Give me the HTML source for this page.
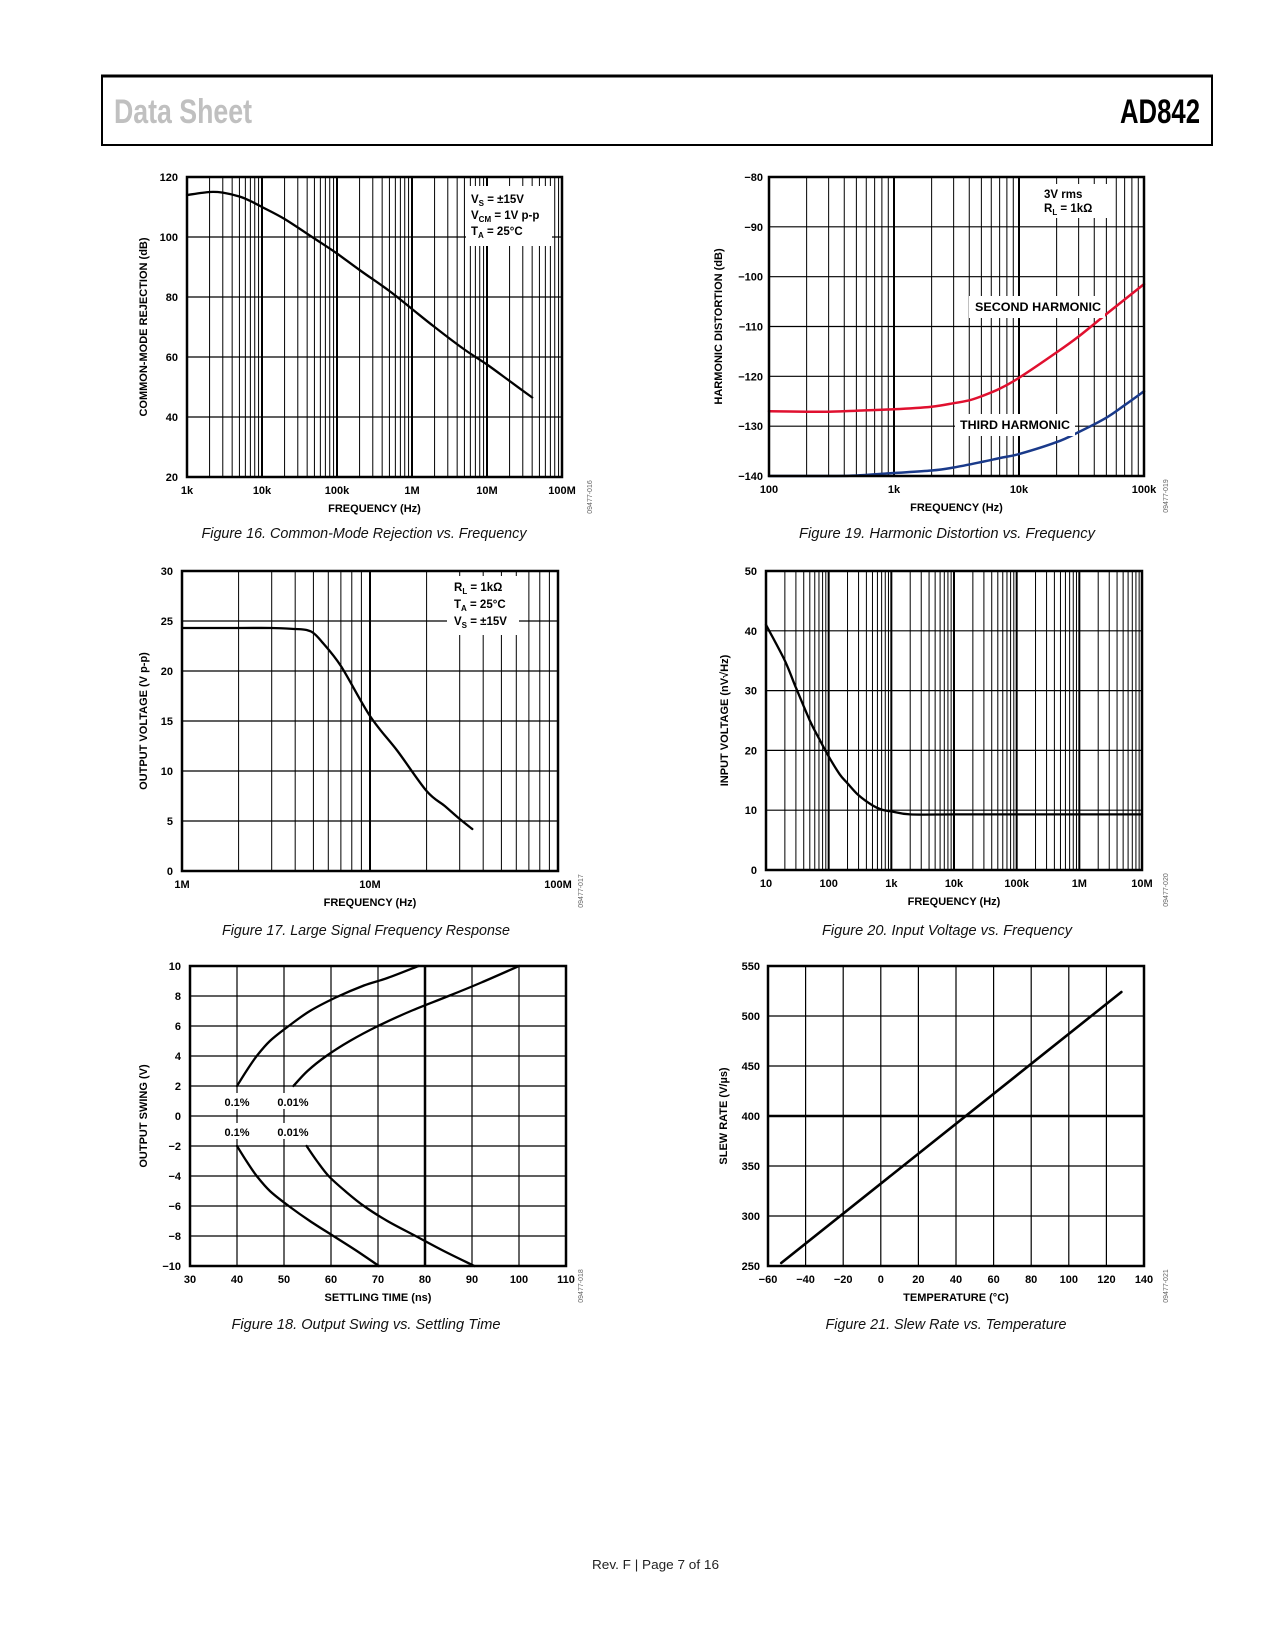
<!DOCTYPE html>
<html><head><meta charset="utf-8"><title>AD842 Data Sheet page 7</title>
<style>
html,body{margin:0;padding:0;background:#fff;}
body{width:1275px;height:1650px;position:relative;overflow:hidden;font-family:"Liberation Sans",sans-serif;}
svg{position:absolute;left:0;top:0;}
text{font-family:"Liberation Sans",sans-serif;}
</style></head>
<body>
<svg id="page" width="1275" height="1650" viewBox="0 0 1275 1650" xmlns="http://www.w3.org/2000/svg">
  <g>
    <rect x="102" y="76" width="1110" height="69" fill="none" stroke="#000" stroke-width="2"/>
    <line x1="101" y1="76" x2="1213" y2="76" stroke="#000" stroke-width="3"/>
    <text x="114" y="123" font-size="34" font-weight="bold" fill="#c0c0c0" textLength="138" lengthAdjust="spacingAndGlyphs">Data Sheet</text>
    <text x="1120" y="123" font-size="34" font-weight="bold" fill="#000" textLength="80" lengthAdjust="spacingAndGlyphs">AD842</text>
  </g>
  <text x="592" y="1569" font-size="13" fill="#222" textLength="127" lengthAdjust="spacingAndGlyphs">Rev. F | Page 7 of 16</text>
</svg>
<script>
// ---------- Figure 16: CMR vs frequency ----------
const cmrFreq = [1e3,2e3,3e3,5e3,7e3,1e4,2e4,5e4,1e5,2e5,5e5,1e6,2e6,5e6,1e7,2e7,4e7];
const cmrDb   = [114,115,114.8,113.5,112,110,106,99.5,94.5,89,82,76,70,62.5,57.5,52,46.5];
const cmrYTicks = [20,40,60,80,100,120];
const cmrXTickLabels = ["1k","10k","100k","1M","10M","100M"];

// ---------- Figure 19: harmonic distortion ----------
const hdFreq2 = [100,200,300,500,1e3,2e3,3e3,4e3,5e3,7e3,1e4,2e4,3e4,5e4,1e5];
const hdSecond = [-127,-127.1,-127.1,-126.9,-126.6,-126.1,-125.4,-124.8,-124,-122.5,-120.3,-115.2,-112,-107.5,-101.5];
const hdFreq3 = [100,300,500,1e3,2e3,3e3,5e3,7e3,1e4,2e4,3e4,5e4,7e4,1e5];
const hdThird = [-140,-140,-139.9,-139.4,-138.9,-138.3,-137.2,-136.4,-135.6,-133.2,-131.2,-128.3,-125.8,-123];
const hdYTicks = [-140,-130,-120,-110,-100,-90,-80];
const hdXTickLabels = ["100","1k","10k","100k"];

// ---------- Figure 17: large signal frequency response ----------
const lsFreq = [1e6,2e6,3e6,4e6,4.6e6,5e6,5.5e6,7e6,1e7,1.4e7,2e7,2.5e7,3e7,3.5e7];
const lsVolt = [24.3,24.3,24.3,24.2,24.1,23.8,23,20.5,15.5,12,8,6.5,5.2,4.2];
const lsYTicks = [0,5,10,15,20,25,30];
const lsXTickLabels = ["1M","10M","100M"];

// ---------- Figure 20: input voltage noise ----------
const nzFreq = [10,20,30,50,70,100,150,200,300,500,700,1e3,2e3,1e4,1e5,1e6,1e7];
const nzVolt = [41,35,30.5,25,22,19,16,14.5,12.5,10.8,10.1,9.8,9.3,9.3,9.3,9.3,9.3];
const nzYTicks = [0,10,20,30,40,50];
const nzXTickLabels = ["10","100","1k","10k","100k","1M","10M"];

// ---------- Figure 18: output swing vs settling time ----------
const stUp01T  = [40,42,44.2,47,51,55.5,61,67,72,78.6];
const stUp01V  = [2,3,4,5,6,7,7.9,8.7,9.2,10];
const stUp001T = [52,55,59,64,70,77,85,92,100];
const stUp001V = [2,3,4,5,6,7,8,8.9,10];
const stLo01T  = [40,42,44.2,47,51,55.5,60.5,65.5,70.2];
const stLo01V  = [-2,-3,-4,-5,-6,-7,-8,-9,-10];
const stLo001T = [54.8,57,59.5,63,67,72,78,84,90.5];
const stLo001V = [-2,-3,-4,-5,-6,-7,-8,-9,-10];
const stXTicks = [30,40,50,60,70,80,90,100,110];
const stYTicks = [-10,-8,-6,-4,-2,0,2,4,6,8,10];

// ---------- Figure 21: slew rate vs temperature ----------
const srTemp = [-53,128];
const srRate = [253,524];
const srXTicks = [-60,-40,-20,0,20,40,60,80,100,120,140];
const srYTicks = [250,300,350,400,450,500,550];

const NS = "http://www.w3.org/2000/svg";
const svg = document.getElementById('page');
function mk(tag, attrs, parent){
  const e = document.createElementNS(NS, tag);
  for (const k in attrs) e.setAttribute(k, attrs[k]);
  (parent||svg).appendChild(e);
  return e;
}
function fmt(v){ return v<0 ? "\u2212"+Math.abs(v) : String(v); }
function smoothPath(pts){
  if (pts.length<3) return pts.map((p,i)=>(i?'L':'M')+p[0].toFixed(1)+' '+p[1].toFixed(1)).join(' ');
  let d='M'+pts[0][0].toFixed(1)+' '+pts[0][1].toFixed(1);
  for (let i=0;i<pts.length-1;i++){
    const p0=pts[i-1]||pts[i], p1=pts[i], p2=pts[i+1], p3=pts[i+2]||p2;
    const c1=[p1[0]+(p2[0]-p0[0])/6, p1[1]+(p2[1]-p0[1])/6];
    const c2=[p2[0]-(p3[0]-p1[0])/6, p2[1]-(p3[1]-p1[1])/6];
    d+=` C${c1[0].toFixed(1)} ${c1[1].toFixed(1)} ${c2[0].toFixed(1)} ${c2[1].toFixed(1)} ${p2[0].toFixed(1)} ${p2[1].toFixed(1)}`;
  }
  return d;
}

function makeChart(c){
  const g = mk('g', {});
  
  
  const L=c.x0, R=c.x1, T=c.y0, B=c.y1;
  const xs = c.log
    ? v => L + (Math.log10(v)-Math.log10(c.xmin))/(Math.log10(c.xmax)-Math.log10(c.xmin))*(R-L)
    : v => L + (v-c.xmin)/(c.xmax-c.xmin)*(R-L);
  const ys = v => B - (v-c.ymin)/(c.ymax-c.ymin)*(B-T);
  const grid = mk('g', {}, g);
  
  
  if (c.log){
    const d0 = Math.round(Math.log10(c.xmin)), d1 = Math.round(Math.log10(c.xmax));
    for (let d=d0; d<d1; d++){
      for (let k=1;k<=9;k++){
        const x = xs(k*Math.pow(10,d));
        mk('line',{x1:x,y1:T,x2:x,y2:B,stroke:'#000','stroke-width':k===1?2:1},grid);
      }
    }
  } else {
    c.xTicks.forEach(v=>{
      const x=xs(v);
      mk('line',{x1:x,y1:T,x2:x,y2:B,stroke:'#000','stroke-width':(c.thickX===v)?2.5:1.2},grid);
    });
  }
  c.yTicks.forEach(v=>{
    const y=ys(v);
    mk('line',{x1:L,y1:y,x2:R,y2:y,stroke:'#000','stroke-width':(c.thickY===v)?2.5:1.2},grid);
  });
  c.yTicks.forEach(v=>{
    const t = mk('text',{x:L-c.ygap,y:ys(v)+4,'font-size':11,'font-weight':'bold','text-anchor':'end',fill:'#000'},g);
    
    
    t.textContent = fmt(v);
  });
  if (c.log){
    c.xLabels.forEach((s,i)=>{
      const x = xs(c.xmin*Math.pow(10,i));
      const t = mk('text',{x:x,y:B+17,'font-size':11,'font-weight':'bold','text-anchor':'middle',fill:'#000'},g);
      
      
      t.textContent = s;
    });
  } else {
    c.xTicks.forEach(v=>{
      const t = mk('text',{x:xs(v),y:B+17,'font-size':11,'font-weight':'bold','text-anchor':'middle',fill:'#000'},g);
      
      
      t.textContent = fmt(v);
    });
  }
  const xt = mk('text',{x:(L+R)/2,y:B+35,'font-size':11,'font-weight':'bold','text-anchor':'middle',fill:'#000'},g);
  
  
  xt.textContent = c.xTitle;
  const yt = mk('text',{x:0,y:0,'font-size':11,'font-weight':'bold','text-anchor':'middle',fill:'#000',transform:`translate(${c.yTitleX+4},${(T+B)/2}) rotate(-90)`},g);
  
  
  yt.textContent = c.yTitle;
  c.series.forEach(s=>{
    const pts = s.xv.map((v,i)=>[xs(v), ys(s.yv[i])]);
    const p = mk('path',{d:smoothPath(pts),fill:'none',stroke:s.color,'stroke-width':s.w||2.3,'stroke-linejoin':'round','stroke-linecap':'round'},g);
    
    
  });
  const fr = mk('rect',{x:L,y:T,width:R-L,height:B-T,fill:'none',stroke:'#000','stroke-width':2.5},g);
  
  
  (c.notes||[]).forEach(n=>{
    const ng = mk('g',{},g);
    
    
    mk('rect',{x:n.bx,y:n.by,width:n.bw,height:n.bh,fill:'#fff'},ng);
    n.lines.forEach((ln,i)=>{
      const a = {x:n.tx,y:n.ty+i*n.lh,'font-size':n.fs||11,'font-weight':'bold',fill:'#000','text-anchor':n.anchor||'start'};
      if (n.tl){ a.textLength=n.tl; a.lengthAdjust='spacingAndGlyphs'; }
      const t = mk('text',a,ng);
      t.innerHTML = ln;
    });
  });
  const fid = mk('text',{x:0,y:0,'font-size':7,fill:'#666','text-anchor':'middle',transform:`translate(${c.idX},${B+20}) rotate(-90)`},g);
  
  
  fid.textContent = c.figId;
  const cap = mk('text',{x:c.capX,y:c.capY,'font-size':15,'font-style':'italic',fill:'#111','text-anchor':'middle',textLength:c.capW,lengthAdjust:'spacingAndGlyphs'},g);
  
  
  cap.textContent = c.caption;
}

const sub = s => `<tspan font-size="8" dy="3">${s}</tspan><tspan dy="-3"> </tspan>`;

makeChart({name:'cmr-chart',x0:187,x1:562,y0:177,y1:477,log:true,xmin:1e3,xmax:1e8,ymin:20,ymax:120,
  yTicks:cmrYTicks,xLabels:cmrXTickLabels,ygap:9,yTitleX:143,
  xTitle:'FREQUENCY (Hz)',yTitle:'COMMON-MODE REJECTION (dB)',
  series:[{name:'cmr-line',xv:cmrFreq,yv:cmrDb,color:'#000'}],
  notes:[{name:'conditions-legend',bx:466,by:186,bw:86,bh:60,tx:471,ty:203,lh:16,fs:11.5,
    lines:['V'+sub('S')+'= ±15V','V'+sub('CM')+'= 1V p-p','T'+sub('A')+'= 25°C']}],
  figId:'09477-016',idX:592,capX:364,capY:538,capW:325,caption:'Figure 16. Common-Mode Rejection vs. Frequency'});

makeChart({name:'harmonic-distortion-chart',x0:769,x1:1144,y0:177,y1:476,log:true,xmin:100,xmax:1e5,ymin:-140,ymax:-80,
  yTicks:hdYTicks,xLabels:hdXTickLabels,ygap:6,yTitleX:718,
  xTitle:'FREQUENCY (Hz)',yTitle:'HARMONIC DISTORTION (dB)',
  series:[{name:'second-harmonic-line',xv:hdFreq2,yv:hdSecond,color:'#e0102f',w:2.5},
          {name:'third-harmonic-line',xv:hdFreq3,yv:hdThird,color:'#1a3a8a',w:2.5}],
  notes:[{name:'conditions-legend',bx:1036,by:184,bw:74,bh:34,tx:1044,ty:198,lh:14,fs:11.5,lines:['3V rms','R'+sub('L')+'= 1kΩ']},
         {name:'second-harmonic-label',bx:969,by:296,bw:136,bh:22,tx:975,ty:311,lh:14,fs:11.5,tl:126,lines:['SECOND HARMONIC']},
         {name:'third-harmonic-label',bx:955,by:414,bw:120,bh:22,tx:960,ty:429,lh:14,fs:11.5,tl:110,lines:['THIRD HARMONIC']}],
  figId:'09477-019',idX:1168,capX:947,capY:538,capW:296,caption:'Figure 19. Harmonic Distortion vs. Frequency'});

makeChart({name:'large-signal-chart',x0:182,x1:558,y0:571,y1:871,log:true,xmin:1e6,xmax:1e8,ymin:0,ymax:30,
  yTicks:lsYTicks,xLabels:lsXTickLabels,ygap:9,yTitleX:143,
  xTitle:'FREQUENCY (Hz)',yTitle:'OUTPUT VOLTAGE (V p-p)',
  series:[{name:'output-voltage-line',xv:lsFreq,yv:lsVolt,color:'#000'}],
  notes:[{name:'conditions-legend',bx:447,by:576,bw:72,bh:59,tx:454,ty:591,lh:17,fs:11.5,
    lines:['R'+sub('L')+'= 1kΩ','T'+sub('A')+'= 25°C','V'+sub('S')+'= ±15V']}],
  figId:'09477-017',idX:583,capX:366,capY:935,capW:288,caption:'Figure 17. Large Signal Frequency Response'});

makeChart({name:'input-voltage-chart',x0:766,x1:1142,y0:571,y1:870,log:true,xmin:10,xmax:1e7,ymin:0,ymax:50,
  yTicks:nzYTicks,xLabels:nzXTickLabels,ygap:9,yTitleX:724,
  xTitle:'FREQUENCY (Hz)',yTitle:'INPUT VOLTAGE (nV√Hz)',
  series:[{name:'noise-line',xv:nzFreq,yv:nzVolt,color:'#000'}],
  figId:'09477-020',idX:1168,capX:947,capY:935,capW:250,caption:'Figure 20. Input Voltage vs. Frequency'});

makeChart({name:'settling-time-chart',x0:190,x1:566,y0:966,y1:1266,log:false,xmin:30,xmax:110,ymin:-10,ymax:10,
  xTicks:stXTicks,yTicks:stYTicks,thickX:80,ygap:9,yTitleX:143,
  xTitle:'SETTLING TIME (ns)',yTitle:'OUTPUT SWING (V)',
  series:[{name:'upper-0.1pct-line',xv:stUp01T,yv:stUp01V,color:'#000'},
          {name:'upper-0.01pct-line',xv:stUp001T,yv:stUp001V,color:'#000'},
          {name:'lower-0.1pct-line',xv:stLo01T,yv:stLo01V,color:'#000'},
          {name:'lower-0.01pct-line',xv:stLo001T,yv:stLo001V,color:'#000'}],
  notes:[{name:'upper-0.1pct-label',bx:220,by:1093,bw:35,bh:16,tx:237,ty:1106,lh:14,anchor:'middle',lines:['0.1%']},
         {name:'upper-0.01pct-label',bx:272,by:1093,bw:44,bh:16,tx:293,ty:1106,lh:14,anchor:'middle',lines:['0.01%']},
         {name:'lower-0.1pct-label',bx:220,by:1123,bw:35,bh:16,tx:237,ty:1136,lh:14,anchor:'middle',lines:['0.1%']},
         {name:'lower-0.01pct-label',bx:272,by:1123,bw:44,bh:16,tx:293,ty:1136,lh:14,anchor:'middle',lines:['0.01%']}],
  figId:'09477-018',idX:583,capX:366,capY:1329,capW:269,caption:'Figure 18. Output Swing vs. Settling Time'});

makeChart({name:'slew-rate-chart',x0:768,x1:1144,y0:966,y1:1266,log:false,xmin:-60,xmax:140,ymin:250,ymax:550,
  xTicks:srXTicks,yTicks:srYTicks,thickY:400,ygap:8,yTitleX:723,
  xTitle:'TEMPERATURE (°C)',yTitle:'SLEW RATE (V/µs)',
  series:[{name:'slew-rate-line',xv:srTemp,yv:srRate,color:'#000',w:2.6}],
  figId:'09477-021',idX:1168,capX:946,capY:1329,capW:241,caption:'Figure 21. Slew Rate vs. Temperature'});
</script>
</body></html>
